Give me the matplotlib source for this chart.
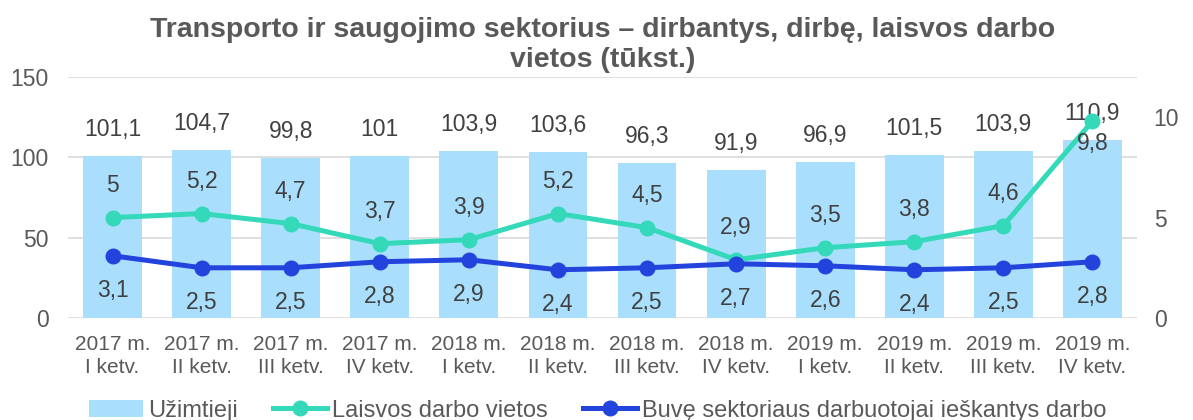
import matplotlib
matplotlib.use("Agg")
import matplotlib.pyplot as plt
import numpy as np

plt.rcParams['font.family'] = ['Liberation Sans', 'DejaVu Sans']

categories = ["2017 m.\nI ketv.", "2017 m.\nII ketv.", "2017 m.\nIII ketv.", "2017 m.\nIV ketv.",
              "2018 m.\nI ketv.", "2018 m.\nII ketv.", "2018 m.\nIII ketv.", "2018 m.\nIV ketv.",
              "2019 m.\nI ketv.", "2019 m.\nII ketv.", "2019 m.\nIII ketv.", "2019 m.\nIV ketv."]
employed = [101.1, 104.7, 99.8, 101, 103.9, 103.6, 96.3, 91.9, 96.9, 101.5, 103.9, 110.9]
vacancies = [5, 5.2, 4.7, 3.7, 3.9, 5.2, 4.5, 2.9, 3.5, 3.8, 4.6, 9.8]
seekers = [3.1, 2.5, 2.5, 2.8, 2.9, 2.4, 2.5, 2.7, 2.6, 2.4, 2.5, 2.8]

def fmt(v):
    s = f"{v:g}"
    return s.replace(".", ",")

BAR = "#A9DFFC"
TEAL = "#33D9B8"
BLUE = "#2244DD"
TXT = "#404040"
AXT = "#595959"
GRID = "#D9D9D9"

fig = plt.figure(figsize=(11.93, 4.2), dpi=100)
ax = fig.add_axes([68/1193, 1-318/420, (1137-68)/1193, (318-77)/420])
ax2 = ax.twinx()

x = np.arange(len(categories))
ax.bar(x, employed, width=0.66, color=BAR, zorder=2, label="Užimtieji")
ax.set_ylim(0, 150)
ax.set_yticks([0, 50, 100, 150])
ax.set_xlim(-0.5, len(categories) - 0.5)
ax.grid(axis='y', color=GRID, linewidth=1.2, zorder=0)
ax.set_axisbelow(True)
for s in ax.spines.values():
    s.set_visible(False)
for s in ax2.spines.values():
    s.set_visible(False)
ax.tick_params(axis='y', length=0, pad=14, labelsize=16.5, labelcolor=AXT)
ax.tick_params(axis='x', length=0, pad=12, labelsize=15, labelcolor=AXT)
ax.set_xticks(x)
ax.set_xticklabels(categories, linespacing=1.3)

ax2.plot(x, vacancies, color=TEAL, lw=3.6, marker='o', ms=10.5, zorder=3, label="Laisvos darbo vietos")
ax2.plot(x, seekers, color=BLUE, lw=3.6, marker='o', ms=10.5, zorder=3,
         label="Buvę sektoriaus darbuotojai ieškantys darbo")
ax2.set_ylim(0, 12)
ax2.set_yticks([0, 5, 10])
ax2.tick_params(axis='y', length=0, pad=12, labelsize=16.5, labelcolor=AXT)

for i, v in enumerate(employed):
    ax.annotate(fmt(v), (i, v), xytext=(0, 19), textcoords='offset points',
                ha='center', va='center', fontsize=16.5, color=TXT, zorder=5)
for i, v in enumerate(vacancies):
    off = 23 if i < len(vacancies) - 1 else -16
    ax2.annotate(fmt(v), (i, v), xytext=(0, off), textcoords='offset points',
                 ha='center', va='center', fontsize=16.5, color=TXT, zorder=5)
for i, v in enumerate(seekers):
    ax2.annotate(fmt(v), (i, v), xytext=(0, -25), textcoords='offset points',
                 ha='center', va='center', fontsize=16.5, color=TXT, zorder=5)

fig.text(0.505, 0.893, "Transporto ir saugojimo sektorius – dirbantys, dirbę, laisvos darbo\nvietos (tūkst.)",
         ha='center', va='center', fontsize=20.5, fontweight='bold', color=AXT, linespacing=1.2)

h1, l1 = ax.get_legend_handles_labels()
h2, l2 = ax2.get_legend_handles_labels()
fig.legend(h1 + h2, l1 + l2, loc='center', bbox_to_anchor=(0.501, 0.022), ncol=3, frameon=False,
           fontsize=17, labelcolor=AXT, handlelength=2.3, handletextpad=0.2, columnspacing=1.5)

fig.savefig("out.png", dpi=100)
